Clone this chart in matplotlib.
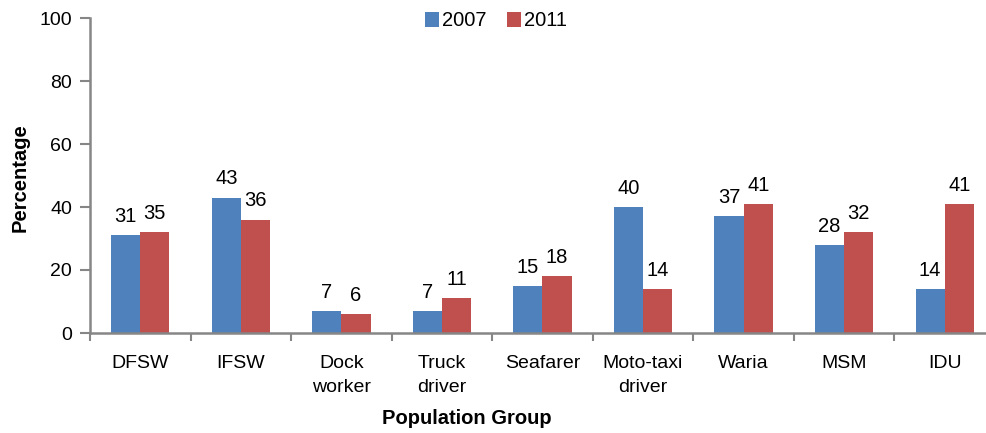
import numpy as np
import matplotlib
matplotlib.use("Agg")
import matplotlib.pyplot as plt

plt.rcParams["font.family"] = ["Liberation Sans", "DejaVu Sans"]

# Data
groups = ["DFSW", "IFSW", "Dock\nworker", "Truck\ndriver", "Seafarer",
          "Moto-taxi\ndriver", "Waria", "MSM", "IDU"]
values_2007 = [31, 43, 7, 7, 15, 40, 37, 28, 14]
values_2011 = [32, 36, 6, 11, 18, 14, 41, 32, 41]
labels_2007 = ["31", "43", "7", "7", "15", "40", "37", "28", "14"]
labels_2011 = ["35", "36", "6", "11", "18", "14", "41", "32", "41"]
years = ["2007", "2011"]

BLUE = "#4F81BD"
RED = "#C0504D"
AXIS_GRAY = "#868686"

fig = plt.figure(figsize=(9.86, 4.33), dpi=100)
# axes spans slightly past the right edge, as in the reference
ax = fig.add_axes([90 / 986, 1 - 333 / 433, 905 / 986, 315 / 433])

x = np.arange(len(groups))
w = 0.29
b1 = ax.bar(x - w / 2, values_2007, w, color=BLUE, label=years[0])
b2 = ax.bar(x + w / 2, values_2011, w, color=RED, label=years[1])

for bars, labels in ((b1, labels_2007), (b2, labels_2011)):
    for rect, lab in zip(bars, labels):
        ax.annotate(lab, (rect.get_x() + rect.get_width() / 2, rect.get_height()),
                    xytext=(0, 9.5), textcoords="offset points",
                    ha="center", va="baseline", fontsize=14.5)

ax.set_xlim(-0.5, len(groups) - 0.5)
ax.set_ylim(0, 100)
ax.set_yticks(range(0, 101, 20))
ax.tick_params(axis="y", labelsize=14, length=7, width=1.5,
               color=AXIS_GRAY, pad=6)

ax.set_xticks(x)
ax.set_xticklabels(groups, fontsize=14, linespacing=1.5)
ax.set_xticks(np.arange(-0.5, len(groups) - 0.4, 1), minor=True)
ax.tick_params(axis="x", which="major", length=0, pad=16)
ax.tick_params(axis="x", which="minor", length=6, width=1.5, color=AXIS_GRAY)

for side in ("top", "right"):
    ax.spines[side].set_visible(False)
for side in ("left", "bottom"):
    ax.spines[side].set_color(AXIS_GRAY)
    ax.spines[side].set_linewidth(1.8)

fig.text(20 / 986, 1 - 178 / 433, "Percentage", rotation=90, fontsize=14.5,
         fontweight="bold", ha="center", va="center")
fig.text(467 / 986, 1 - 418 / 433, "Population Group", fontsize=14.5,
         fontweight="bold", ha="center", va="center")

fig.legend(loc="center", bbox_to_anchor=(496 / 986, 1 - 21 / 433), ncol=2,
           frameon=False, fontsize=14.5, handlelength=0.7, handleheight=0.7,
           handletextpad=0.15, columnspacing=1.0, borderaxespad=0)

fig.savefig("out.png", dpi=100)
